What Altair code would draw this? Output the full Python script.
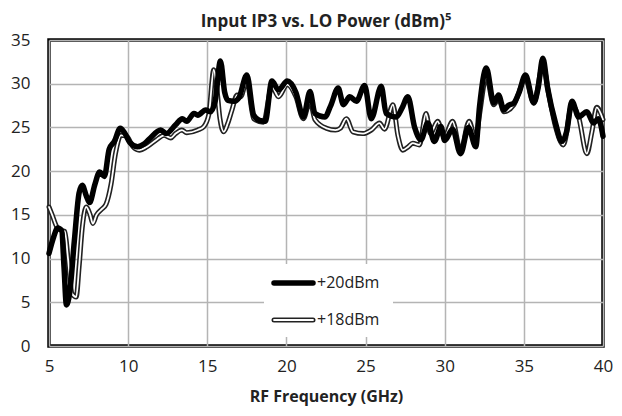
import altair as alt
import pandas as pd

# +20dBm series (black)
freq_20 = [5.0, 5.3, 5.55, 5.8, 5.95, 6.1, 6.3, 6.6, 6.9, 7.1, 7.35, 7.56, 7.9, 8.2, 8.5, 8.8, 9.13, 9.5,
           9.8, 10.1, 10.6, 11.0, 11.3, 12.06, 12.4, 13.0, 13.42, 13.7, 14.16, 14.4, 14.9, 15.2, 15.5, 15.83,
           16.1, 16.3, 16.7, 17.0, 17.5, 17.93, 18.3, 18.66, 19.08, 19.5, 20.05, 20.6, 21.07, 21.49, 21.8,
           22.43, 22.8, 23.27, 23.6, 24.0, 24.42, 24.94, 25.36, 25.99, 26.3, 26.94, 27.3, 27.67, 28.1, 28.5,
           28.93, 29.35, 29.76, 30.0, 30.5, 31.0, 31.5, 31.96, 32.2, 32.63, 33.1, 33.4, 33.74, 34.0, 34.37,
           34.7, 35.1, 35.63, 35.9, 36.2, 36.5, 37.0, 37.4, 37.7, 38.04, 38.46, 38.98, 39.4, 39.7, 40.0]
ip3_20 = [10.6, 12.5, 13.5, 13.2, 9.0, 4.7, 6.0, 12.0, 17.5, 18.4, 17.2, 16.4, 18.5, 19.9, 19.4, 22.5, 23.4, 24.9,
          24.3, 23.3, 22.8, 23.1, 23.6, 24.7, 24.3, 25.3, 26.0, 25.7, 26.6, 26.4, 27.0, 26.8, 28.0, 32.6,
          29.0, 28.1, 28.0, 28.4, 31.0, 26.4, 25.8, 25.7, 30.3, 29.3, 30.3, 29.0, 26.2, 29.1, 26.6,
          26.2, 27.5, 29.5, 27.6, 28.5, 28.0, 29.8, 26.0, 29.7, 26.6, 26.2, 27.2, 28.5, 25.0, 23.6,
          25.5, 23.4, 25.1, 23.5, 24.8, 22.0, 25.0, 22.8, 27.4, 31.8, 27.8, 28.7, 27.0, 27.5, 27.8,
          29.0, 31.0, 27.8, 29.5, 32.9, 29.5, 25.5, 23.4, 24.5, 28.0, 26.2, 26.8, 25.5, 26.0, 24.0]

# +18dBm series (outlined)
freq_18 = [5.0, 5.2, 5.5, 5.8, 6.0, 6.2, 6.45, 6.72, 6.9, 7.1, 7.35, 7.6, 7.77, 8.0, 8.3, 8.6, 8.92, 9.2, 9.55,
           9.9, 10.3, 10.7, 11.2, 11.8, 12.27, 12.7, 13.0, 13.4, 13.7, 14.4, 14.78, 15.1, 15.41, 15.6, 15.8,
           16.04, 16.3, 16.56, 16.88, 17.1, 17.5, 17.93, 18.55, 19.08, 19.5, 20.05, 20.6, 21.07, 21.49, 21.8,
           22.54, 23.1, 23.4, 23.79, 24.2, 24.84, 25.36, 25.88, 26.2, 26.73, 27.04, 27.35, 27.7, 27.98, 28.4,
           28.82, 29.1, 29.55, 29.97, 30.5, 31.0, 31.54, 31.96, 32.2, 32.63, 33.1, 33.4, 33.74, 34.37, 35.1,
           35.63, 36.2, 36.6, 37.0, 37.5, 38.04, 38.46, 38.98, 39.3, 39.6, 40.0]
ip3_18 = [15.9, 15.0, 13.6, 13.2, 13.1, 10.0, 6.0, 5.6, 9.0, 13.5, 15.9, 15.0, 14.0, 15.0, 15.6, 16.2, 18.5, 22.0, 24.1,
          24.0, 22.8, 22.4, 22.8, 23.6, 24.1, 23.8, 24.3, 24.7, 24.4, 24.7, 25.1, 26.5, 31.6, 29.5, 26.0,
          24.5, 25.5, 27.0, 28.7, 28.5, 30.3, 26.0, 25.6, 29.7, 28.5, 29.9, 28.5, 26.0, 28.0, 25.9,
          24.9, 24.7, 24.9, 26.0, 24.5, 24.3, 24.7, 25.5, 24.8, 27.6, 24.1, 22.4, 22.8, 23.2, 23.0,
          26.6, 24.3, 25.7, 23.9, 25.7, 22.3, 25.7, 23.6, 26.5, 30.8, 27.6, 28.3, 26.8, 27.6, 30.5,
          27.8, 32.1, 28.5, 25.1, 23.0, 27.6, 26.2, 22.0, 24.5, 27.3, 25.9]

x_ticks = [5, 10, 15, 20, 25, 30, 35, 40]
y_ticks = [0, 5, 10, 15, 20, 25, 30, 35]
legend_labels = ["+20dBm", "+18dBm"]

FONT = "Open Sans"

df20 = pd.DataFrame({"f": freq_20, "v": ip3_20})
df18 = pd.DataFrame({"f": freq_18, "v": ip3_18})

xs = alt.X("f:Q", scale=alt.Scale(domain=[5, 40], nice=False),
           axis=alt.Axis(values=x_ticks, title="RF Frequency (GHz)", grid=True, ticks=False, domain=False,
                         labelFontSize=17, labelPadding=12, titleFontSize=16, titleFontWeight="bold",
                         titlePadding=14, labelFont=FONT, titleFont=FONT, labelColor="#222", titleColor="#222",
                         gridColor="#b4b4b4", gridWidth=1.5, labelFlush=False))
ys = alt.Y("v:Q", scale=alt.Scale(domain=[0, 35], nice=False),
           axis=alt.Axis(values=y_ticks, title=None, grid=True, ticks=False, domain=False,
                         labelFontSize=17, labelPadding=19, labelFont=FONT, labelColor="#222",
                         gridColor="#b4b4b4", gridWidth=1.5))

outline = alt.Chart(df18).mark_line(color="#222", strokeWidth=5, interpolate="monotone",
                                    strokeJoin="round", strokeCap="round").encode(x=xs, y=ys, order="f:Q")
inner = alt.Chart(df18).mark_line(color="white", strokeWidth=1.8, interpolate="monotone",
                                  strokeJoin="round", strokeCap="round").encode(x=xs, y=ys, order="f:Q")
black = alt.Chart(df20).mark_line(color="black", strokeWidth=5.5, interpolate="monotone",
                                  strokeJoin="round", strokeCap="round").encode(x=xs, y=ys, order="f:Q")

leg_box = alt.Chart(df20.head(1)).mark_rect(color="white").encode(
    x=alt.value(215), x2=alt.value(344), y=alt.value(224), y2=alt.value(297))
leg_l1 = alt.Chart(df20.head(1)).mark_rule(color="black", strokeWidth=5.5, strokeCap="round").encode(
    x=alt.value(225), x2=alt.value(264), y=alt.value(243))
leg_l2o = alt.Chart(df20.head(1)).mark_rule(color="#222", strokeWidth=5, strokeCap="round").encode(
    x=alt.value(225), x2=alt.value(264), y=alt.value(280))
leg_l2i = alt.Chart(df20.head(1)).mark_rule(color="white", strokeWidth=1.8, strokeCap="round").encode(
    x=alt.value(225), x2=alt.value(264), y=alt.value(280))
leg_t1 = alt.Chart(df20.head(1)).mark_text(text=legend_labels[0], align="left", baseline="middle",
                                           fontSize=16, font=FONT, color="#222").encode(
    x=alt.value(268), y=alt.value(243))
leg_t2 = alt.Chart(df20.head(1)).mark_text(text=legend_labels[1], align="left", baseline="middle",
                                           fontSize=16, font=FONT, color="#222").encode(
    x=alt.value(268), y=alt.value(280))

chart = alt.layer(outline, inner, black, leg_box, leg_l1, leg_l2o, leg_l2i, leg_t1, leg_t2).properties(
    width=554, height=306,
    title=alt.TitleParams("Input IP3 vs. LO Power (dBm)\u2075", fontSize=17, fontWeight="bold", font=FONT,
                          color="#222", anchor="middle", offset=0),
    padding={"left": 41, "top": 32, "right": 11, "bottom": 62},
    autosize="none",
    background="white",
).configure_view(stroke="black", strokeWidth=3.5)

chart.save("out.html", embed_options={"renderer": "svg", "actions": False})
